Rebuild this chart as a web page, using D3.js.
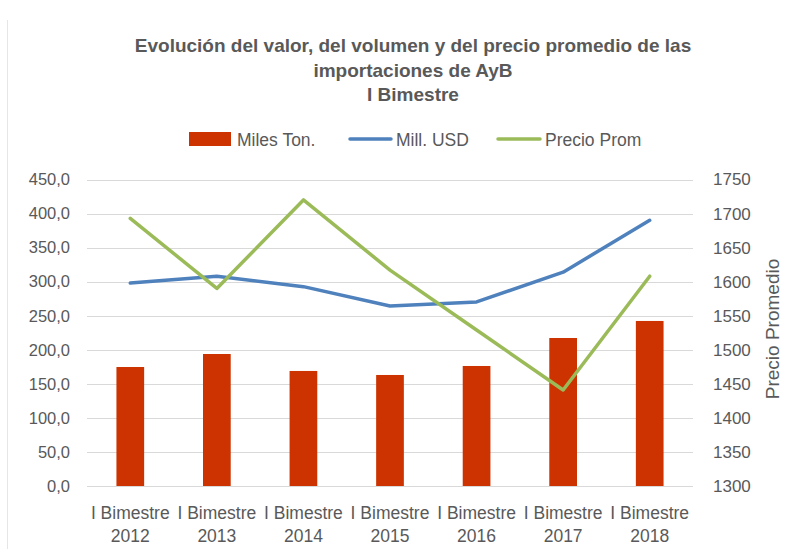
<!DOCTYPE html>
<html><head><meta charset="utf-8">
<script src="https://cdn.jsdelivr.net/npm/d3@7"></script>
<style>body{margin:0;background:#fff}svg{display:block}text{font-family:"Liberation Sans",Arial,sans-serif;fill:#595959}</style>
</head><body>
<script>
const categories = ["I Bimestre 2012","I Bimestre 2013","I Bimestre 2014","I Bimestre 2015","I Bimestre 2016","I Bimestre 2017","I Bimestre 2018"];
const milesTon = [174.7, 193.8, 168.9, 163.0, 176.2, 217.3, 242.3];
const millUSD = [298.0, 308.0, 292.7, 264.3, 270.2, 314.0, 390.0];
const precioProm = [1693, 1590, 1720, 1617, 1529, 1441, 1608];
const leftTicks = [0,50,100,150,200,250,300,350,400,450];
const rightTicks = [1300,1350,1400,1450,1500,1550,1600,1650,1700,1750];
const titleLines = ["Evolución del valor, del volumen y del precio promedio de las","importaciones de AyB","I Bimestre"];
const seriesNames = ["Miles Ton.","Mill. USD","Precio Prom"];
const colors = {bar:"#CC3300", usd:"#4F81BD", price:"#9BBB59"};

const W=799,H=549;
const svg=d3.select("body").append("svg").attr("width",W).attr("height",H);
svg.append("line").attr("x1",7.5).attr("x2",7.5).attr("y1",20).attr("y2",H).attr("stroke","#e6e6e6");

const x=d3.scaleBand().domain(categories).range([87,693]).padding(0);
const yL=d3.scaleLinear().domain([0,450]).range([486,179.5]);
const yR=d3.scaleLinear().domain([1300,1750]).range([486,179.5]);

// title
svg.append("g").selectAll("text").data(titleLines).join("text")
 .attr("x",413).attr("y",(d,i)=>52+i*24.5).attr("text-anchor","middle")
 .style("font-size","19px").style("font-weight","bold").text(d=>d);

// gridlines
svg.append("g").selectAll("line").data(leftTicks).join("line")
 .attr("x1",87).attr("x2",693).attr("y1",d=>Math.round(yL(d))+0.5).attr("y2",d=>Math.round(yL(d))+0.5)
 .attr("stroke","#D9D9D9").attr("stroke-width",1);

// left axis
const fmt=d=>d3.format(".1f")(d).replace(".",",");
const gL=svg.append("g").attr("transform","translate(70,0)")
 .call(d3.axisLeft(yL).tickValues(leftTicks).tickFormat(fmt).tickSize(0).tickPadding(0));
gL.select(".domain").remove();
gL.selectAll("text").style("font-size","16.5px").style("fill","#595959").attr("font-family",null);

// right axis
const gR=svg.append("g").attr("transform","translate(713,0)")
 .call(d3.axisRight(yR).tickValues(rightTicks).tickFormat(d3.format("d")).tickSize(0).tickPadding(0));
gR.select(".domain").remove();
gR.selectAll("text").style("font-size","17px").style("fill","#595959").attr("font-family",null);

svg.append("text").attr("transform","translate(779,329) rotate(-90)").attr("text-anchor","middle")
 .style("font-size","19px").text("Precio Promedio");

// bars
const bw=x.bandwidth()*0.32;
svg.append("g").selectAll("rect").data(milesTon).join("rect")
 .attr("x",(d,i)=>x(categories[i])+x.bandwidth()/2-bw/2).attr("width",bw)
 .attr("y",d=>yL(d)).attr("height",d=>yL(0)-yL(d)).attr("fill",colors.bar);

// x labels
const xl=svg.append("g").selectAll("text").data(categories).join("text")
 .attr("text-anchor","middle").style("font-size","17.5px");
xl.append("tspan").attr("x",d=>x(d)+x.bandwidth()/2).attr("y",519).text(d=>d.split(" ").slice(0,2).join(" "));
xl.append("tspan").attr("x",d=>x(d)+x.bandwidth()/2).attr("y",542).text(d=>d.split(" ")[2]);

// lines
const cx=(i)=>x(categories[i])+x.bandwidth()/2;
svg.append("path").datum(millUSD).attr("fill","none").attr("stroke",colors.usd).attr("stroke-width",3.5)
 .attr("stroke-linejoin","round").attr("stroke-linecap","round")
 .attr("d",d3.line().x((d,i)=>cx(i)).y(d=>yL(d)));
svg.append("path").datum(precioProm).attr("fill","none").attr("stroke",colors.price).attr("stroke-width",3.5)
 .attr("stroke-linejoin","round").attr("stroke-linecap","round")
 .attr("d",d3.line().x((d,i)=>cx(i)).y(d=>yR(d)));

// legend
const lg=svg.append("g");
lg.append("rect").attr("x",189).attr("y",132).attr("width",42).attr("height",14).attr("fill",colors.bar);
lg.append("text").attr("x",237).attr("y",145.5).style("font-size","17.5px").text(seriesNames[0]);
lg.append("line").attr("x1",350).attr("x2",391).attr("y1",139).attr("y2",139).attr("stroke",colors.usd).attr("stroke-width",3.5).attr("stroke-linecap","round");
lg.append("text").attr("x",396).attr("y",145.5).style("font-size","17.5px").text(seriesNames[1]);
lg.append("line").attr("x1",498).attr("x2",540).attr("y1",139).attr("y2",139).attr("stroke",colors.price).attr("stroke-width",3.5).attr("stroke-linecap","round");
lg.append("text").attr("x",545).attr("y",145.5).style("font-size","17.5px").text(seriesNames[2]);
</script>
</body></html>
